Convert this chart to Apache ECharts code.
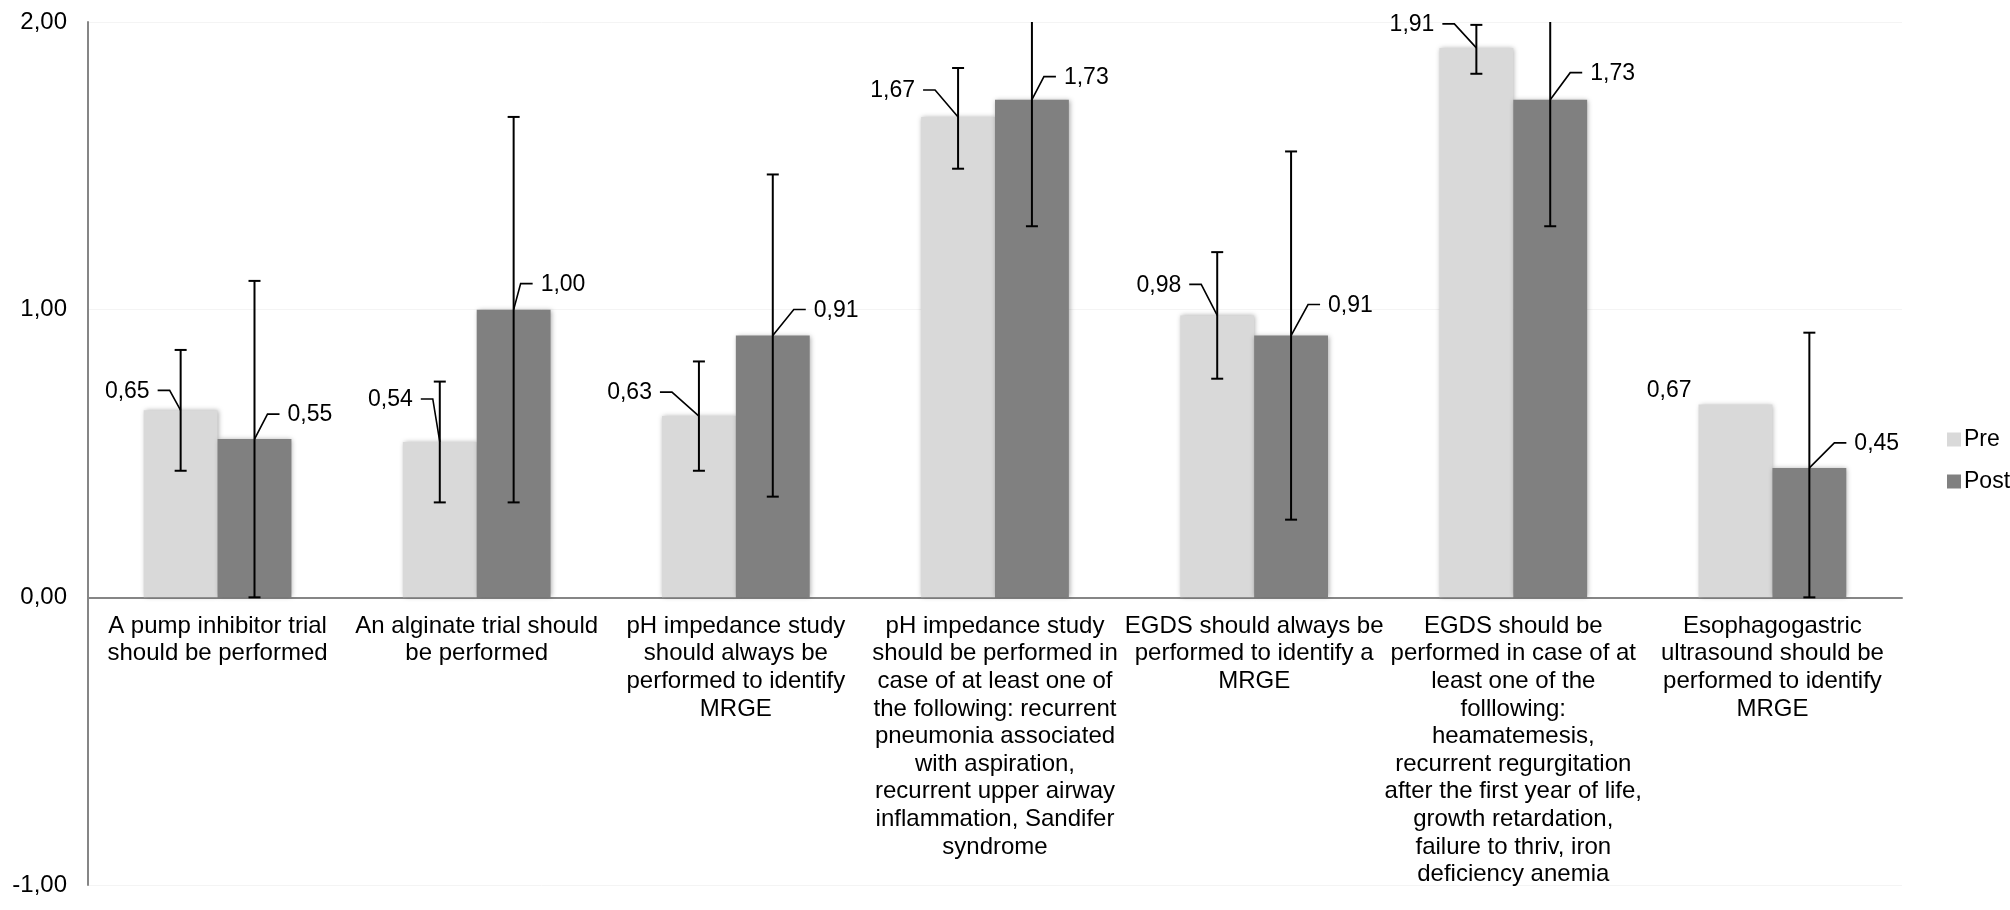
<!DOCTYPE html>
<html>
<head>
<meta charset="utf-8">
<script src="https://cdn.jsdelivr.net/npm/echarts@6/dist/echarts.min.js"></script>
<style>
html,body{margin:0;padding:0;background:#fff;}
#chart{width:2010px;height:910px;}
</style>
</head>
<body>
<div id="chart"></div>
<script>
// ---- data ----
const categories = [
  "A pump inhibitor trial\nshould be performed",
  "An alginate trial should\nbe performed",
  "pH impedance study\nshould always be\nperformed to identify\nMRGE",
  "pH impedance study\nshould be performed in\ncase of at least one of\nthe following: recurrent\npneumonia associated\nwith aspiration,\nrecurrent upper airway\ninflammation, Sandifer\nsyndrome",
  "EGDS should always be\nperformed to identify a\nMRGE",
  "EGDS should be\nperformed in case of at\nleast one of the\nfolllowing:\nheamatemesis,\nrecurrent regurgitation\nafter the first year of life,\ngrowth retardation,\nfailure to thriv, iron\ndeficiency anemia",
  "Esophagogastric\nultrasound should be\nperformed to identify\nMRGE"
];
const seriesNames = ["Pre", "Post"];
const preValues  = [0.65, 0.54, 0.63, 1.67, 0.98, 1.91, 0.67];
const postValues = [0.55, 1.00, 0.91, 1.73, 0.91, 1.73, 0.45];
const preLow   = [0.44, 0.33, 0.44, 1.49, 0.76, 1.82, null];
const preHigh  = [0.86, 0.75, 0.82, 1.84, 1.20, 1.99, null];
const postLow  = [0.00, 0.33, 0.35, 1.29, 0.27, 1.29, 0.00];
const postHigh = [1.10, 1.67, 1.47, 2.17, 1.55, 2.17, 0.92];
const yTicks = [-1, 0, 1, 2];

// ---- layout (label leader offsets, px) ----
const preLeader  = [[11,20],[7,43],[27,24],[23,27],[16,31],[22,24],null];
const postLeader = [[13,25],[7,26],[21,26],[12,23],[17,31],[20,27],[25,25]];
const GAP = 0.43;
const Y_MIN = yTicks[0], Y_MAX = yTicks[yTicks.length-1];
const FONT = "'Liberation Sans', Arial, sans-serif";
const GRID = {left:88, right:108, top:22, bottom:25};
const H = 910;

function fmt(v){ return v.toFixed(2).replace('.', ','); }

function makeRender(side, leaders){
  return function(params, api){
    const i = api.value(0);
    const v = api.value(1);
    const lo = api.value(2), hi = api.value(3);
    const band = api.size([1,0])[0];
    const barW = band*(1-GAP)/2;
    const c = api.coord([i, v]);
    const x = c[0] + side*barW/2;
    const yTop = c[1];
    const children = [];
    const ls = {stroke:'#000', lineWidth:2};
    if (lo != null && hi != null && !isNaN(lo) && !isNaN(hi)) {
      const yH = api.coord([i, Math.min(hi, Y_MAX)])[1];
      const yL = api.coord([i, Math.max(lo, Y_MIN)])[1];
      children.push({type:'line', shape:{x1:x,y1:yH,x2:x,y2:yL}, style:ls});
      if (hi <= Y_MAX) children.push({type:'line', shape:{x1:x-6,y1:yH,x2:x+6,y2:yH}, style:ls});
      if (lo >= Y_MIN) children.push({type:'line', shape:{x1:x-6,y1:yL,x2:x+6,y2:yL}, style:ls});
    }
    const L = leaders[params.dataIndex];
    const ll = {stroke:'#000', lineWidth:1.6, fill:null};
    if (L) {
      const dx = L[0]*side, dy = L[1];
      const px = x + dx, py = yTop - dy;
      const hx = px + side*12;
      children.push({type:'polyline', shape:{points:[[x,yTop],[px,py],[hx,py]]}, style:ll});
      children.push({type:'text', style:{text:fmt(v), x:hx+side*8, y:py+1,
        align: side<0?'right':'left', verticalAlign:'middle', fontSize:23, fontFamily:FONT, fill:'#000'}});
    } else {
      children.push({type:'text', style:{text:fmt(v), x:x+side*44, y:yTop-14,
        align: side<0?'right':'left', verticalAlign:'middle', fontSize:23, fontFamily:FONT, fill:'#000'}});
    }
    return {type:'group', children};
  };
}

// distance from grid bottom up to the zero line, so category labels sit under the zero axis
const plotH = H - GRID.top - GRID.bottom;
const zeroLift = plotH * (0 - Y_MIN) / (Y_MAX - Y_MIN);

const chart = echarts.init(document.getElementById('chart'), null, {renderer:'canvas'});
const barShadow = {shadowBlur:5, shadowColor:'rgba(0,0,0,0.35)', shadowOffsetX:1, shadowOffsetY:0};
chart.setOption({
  animation:false,
  backgroundColor:'#fff',
  textStyle:{fontFamily:FONT},
  grid:Object.assign({containLabel:false, outerBoundsMode:'none'}, GRID),
  legend:{
    data:seriesNames, orient:'vertical', left:1942, top:423,
    itemWidth:14, itemHeight:14, itemGap:19,
    textStyle:{fontSize:23, color:'#000', fontFamily:FONT, padding:[0,0,0,-2]},
    icon:'rect'
  },
  xAxis:{
    type:'category', data:categories,
    axisLine:{show:true, onZero:true, lineStyle:{color:'#868686', width:2}},
    axisTick:{show:false},
    axisLabel:{interval:0, fontSize:24, lineHeight:27.6, color:'#000', margin:15 - zeroLift, fontFamily:FONT, align:'center', verticalAlign:'top'},
    splitLine:{show:false}
  },
  yAxis:{
    type:'value', min:Y_MIN, max:Y_MAX, interval:1,
    axisLine:{show:true, lineStyle:{color:'#868686', width:2}},
    axisTick:{show:false},
    axisLabel:{fontSize:24, color:'#000', margin:21, fontFamily:FONT, formatter:v=>fmt(v)},
    splitLine:{show:true, lineStyle:{color:'#f4f4f4', width:1}}
  },
  series:[
    {name:seriesNames[0], type:'bar', data:preValues, barGap:'0%', barCategoryGap:(GAP*100)+'%',
      itemStyle:Object.assign({color:'#d9d9d9'}, barShadow)},
    {name:seriesNames[1], type:'bar', data:postValues, barGap:'0%', barCategoryGap:(GAP*100)+'%',
      itemStyle:Object.assign({color:'#808080'}, barShadow)},
    {name:'preErr', type:'custom', z:5, clip:false,
      data:preValues.map((v,i)=>[i, v, preLow[i]==null?NaN:preLow[i], preHigh[i]==null?NaN:preHigh[i]]),
      encode:{x:0, y:1}, renderItem:makeRender(-1, preLeader)},
    {name:'postErr', type:'custom', z:5, clip:false,
      data:postValues.map((v,i)=>[i, v, postLow[i], postHigh[i]]),
      encode:{x:0, y:1}, renderItem:makeRender(1, postLeader)}
  ]
});
</script>
</body>
</html>
